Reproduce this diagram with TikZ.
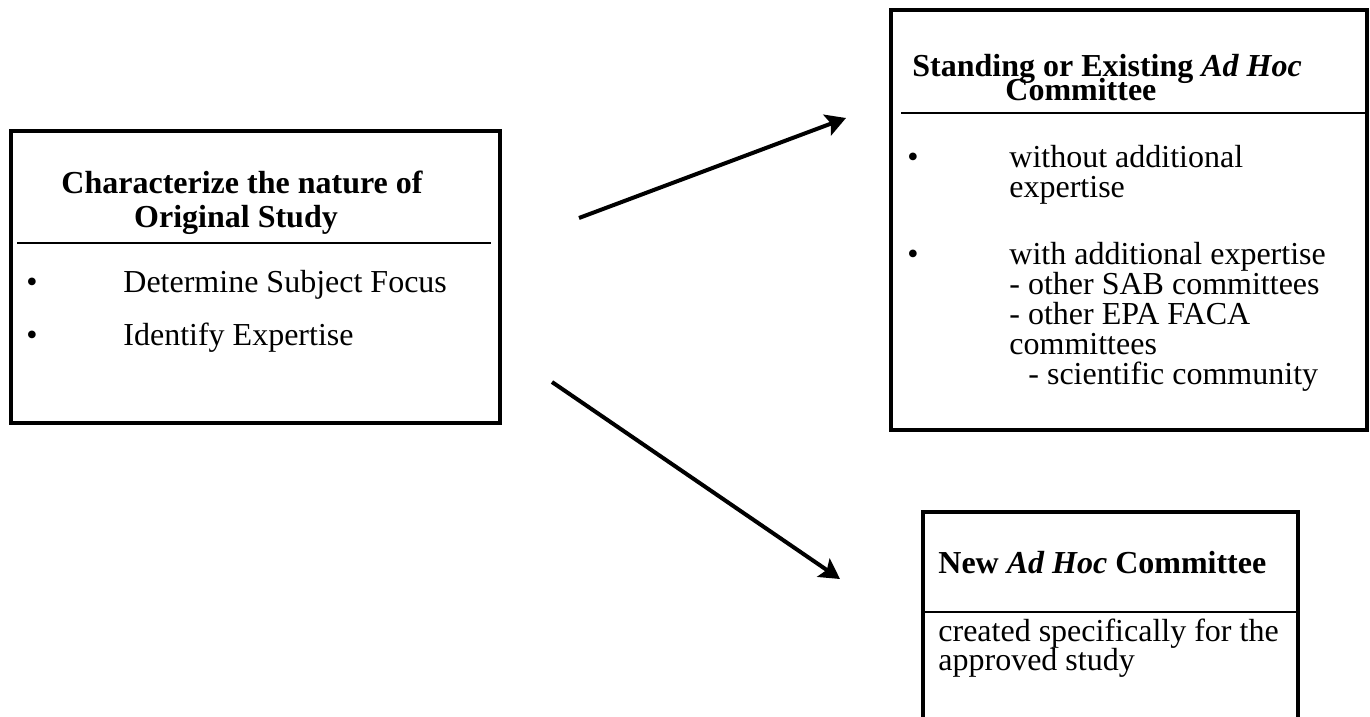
\documentclass[tikz,border=0pt]{standalone}
\usepackage{fontspec}
\setmainfont{Liberation Serif}
\usetikzlibrary{arrows.meta,fit}
\begin{document}
\begin{tikzpicture}[x=0.5pt,y=-0.5pt,
  box/.style={draw, line width=2pt, inner sep=0pt},
  rule/.style={line width=1.1pt},
  txt/.style={inner sep=0pt, anchor=base west, font=\fontsize{16pt}{15pt}\selectfont},
  ctxt/.style={txt, anchor=base},
  ttl/.style={txt, font=\fontsize{16pt}{15pt}\selectfont\bfseries},
  cttl/.style={ttl, anchor=base},
  blt/.style={inner sep=0pt, anchor=base, font=\fontsize{16pt}{15pt}\selectfont},
  conn/.style={line width=2pt, -{Stealth[length=10pt,width=11pt,inset=2pt]}}]
\clip (0,0) rectangle (1370,717);
\fill[white] (0,0) rectangle (1370,717);
% left box
\node[box, fit={(11,131) (500,423)}] (L) {};
\draw[rule] (17,243) -- (491,243);
\node[cttl] (L1) at (242,193) {Characterize the nature of};
\node[cttl] (L2) at (236,227) {Original Study};
\node[blt] (Lb1) at (32,292) {•};
\node[txt] (Lt1) at (123,292) {Determine Subject Focus};
\node[blt] (Lb2) at (32,345) {•};
\node[txt] (Lt2) at (123,345) {Identify Expertise};
% top right box
\node[box, fit={(891,10) (1367,430)}] (R) {};
\draw[rule] (901,113) -- (1367,113);
\node[ttl] (R1) at (912,76) {Standing or Existing \textit{Ad Hoc}};
\node[ttl] (R2) at (1005,101) {Committee};
\node[blt] (Rb1) at (913,167) {•};
\node[txt] (Rt1) at (1009,167) {without additional};
\node[txt] (Rt2) at (1009,197) {expertise};
\node[blt] (Rb2) at (913,264) {•};
\node[txt] (Rt3) at (1009,264) {with additional expertise};
\node[txt] (Rt4) at (1009,294) {- other SAB committees};
\node[txt] (Rt5) at (1009,324) {- other EPA FACA};
\node[txt] (Rt6) at (1009,354) {committees};
\node[txt] (Rt7) at (1028,384) {- scientific community};
% bottom right box
\node[box, fit={(923,512) (1298,760)}] (N) {};
\draw[rule] (923,612) -- (1298,612);
\node[ttl] (N1) at (938,573) {New \textit{Ad Hoc} Committee};
\node[txt] (N2) at (938,641) {created specifically for the};
\node[txt] (N3) at (938,670) {approved study};
% arrows
\coordinate (a1s) at (579,218);
\coordinate (a1e) at (846,118);
\coordinate (a2s) at (552,382);
\coordinate (a2e) at (840,579);
\draw[conn] (a1s) -- (a1e);
\draw[conn] (a2s) -- (a2e);
\end{tikzpicture}
\end{document}
